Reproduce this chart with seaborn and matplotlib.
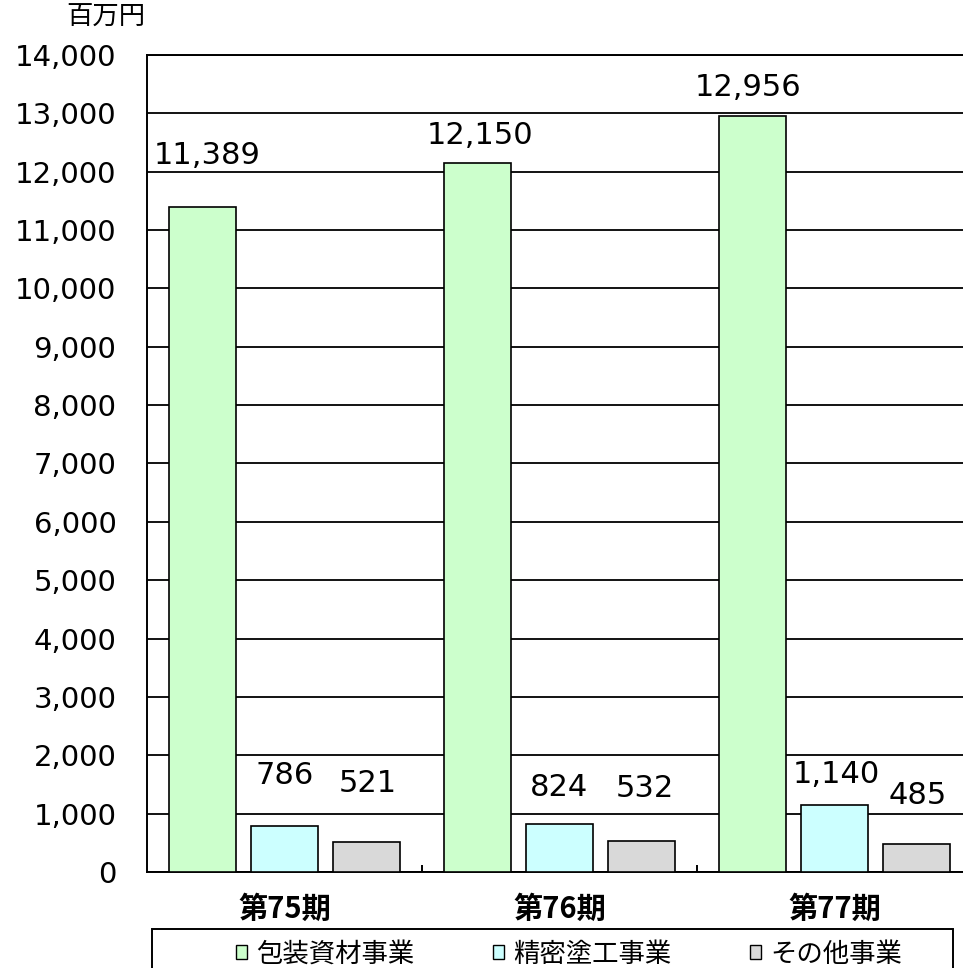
import pandas as pd
import matplotlib.pyplot as plt
import seaborn as sns
from matplotlib.patches import Patch, Rectangle
from matplotlib.ticker import FuncFormatter, FixedLocator

sns.set_style("white")
plt.rcParams['font.family'] = ['DejaVu Sans', 'Noto Sans CJK JP']
plt.rcParams['text.color'] = 'black'
plt.rcParams['xtick.color'] = 'black'
plt.rcParams['ytick.color'] = 'black'

periods = ["第75期", "第76期", "第77期"]
segments = ["包装資材事業", "精密塗工事業", "その他事業"]
packaging = [11389, 12150, 12956]
coating = [786, 824, 1140]
other = [521, 532, 485]
seg_colors = ["#CCFFCC", "#CCFFFF", "#D9D9D9"]

# label offsets (pixels) from top centre of each bar, per segment
label_shift = [
    [(4, 52), (2, 27), (-5, 28)],
    [(0, 51), (0, 36), (2, 31)],
    [(2, 58), (4, 52), (2, 48)],
]

df = pd.DataFrame({
    "period": periods * 3,
    "segment": [s for s in segments for _ in periods],
    "value": packaging + coating + other,
})

fig = plt.figure(figsize=(9.63, 9.68), dpi=100)
ax = fig.add_axes([147 / 963, 96 / 968, 825 / 963, 817 / 968])

sns.barplot(data=df, x="period", y="value", hue="segment", hue_order=segments,
            palette=seg_colors, width=0.89, gap=0.18, edgecolor="black",
            linewidth=1.2, saturation=1, legend=False, ax=ax, zorder=3)

ax.set_ylim(0, 14000)
ax.set_xlim(-0.5, 2.5)
ax.set_yticks(range(0, 14001, 1000))
ax.yaxis.set_major_formatter(FuncFormatter(lambda v, p: f"{int(v):,}"))
ax.yaxis.grid(True, color="black", linewidth=1.3)
ax.set_axisbelow(True)
ax.set_xlabel("")
ax.set_ylabel("")

for s in ["left", "bottom", "top"]:
    ax.spines[s].set_color("black")
    ax.spines[s].set_linewidth(1.4)
ax.spines["right"].set_visible(False)

ax.tick_params(axis="y", length=0, pad=22, labelsize=21, colors="black")
ax.tick_params(axis="x", which="major", length=0, pad=16, labelsize=21, colors="black")
for t in ax.get_xticklabels():
    t.set_fontweight("bold")
    t.set_family(["Noto Sans CJK JP"])
ax.xaxis.set_minor_locator(FixedLocator([0.5, 1.5]))
ax.tick_params(axis="x", which="minor", bottom=True, direction="in",
               length=5, width=1.4, color="black")

for cont, shifts in zip(ax.containers, label_shift):
    for bar, (dx, dy) in zip(cont, shifts):
        ax.annotate(f"{int(bar.get_height()):,}",
                    xy=(bar.get_x() + bar.get_width() / 2, bar.get_height()),
                    xytext=(dx, dy), textcoords="offset pixels",
                    ha="center", va="center", fontsize=22, color="black")

fig.text(106 / 963, 1 - 17 / 968, "百万円", ha="center", va="center",
         fontsize=19, family=["Noto Sans CJK JP"])

handles = [Patch(facecolor=c, edgecolor="black", linewidth=1.0) for c in seg_colors]
leg = fig.legend(handles, segments, loc="center left", ncol=3,
                 bbox_to_anchor=(236 / 963, 1 - 954 / 968),
                 borderaxespad=0, frameon=False, borderpad=0,
                 handlelength=0.4, handleheight=0.4, handletextpad=0.35,
                 columnspacing=3.0,
                 prop={"family": ["Noto Sans CJK JP"], "size": 19})
fig.patches.append(Rectangle((152 / 963, -0.01), 801 / 963, (39 + 10) / 968,
                             transform=fig.transFigure, fill=False,
                             edgecolor="black", linewidth=1.4))

fig.savefig("out.png", dpi=100)
